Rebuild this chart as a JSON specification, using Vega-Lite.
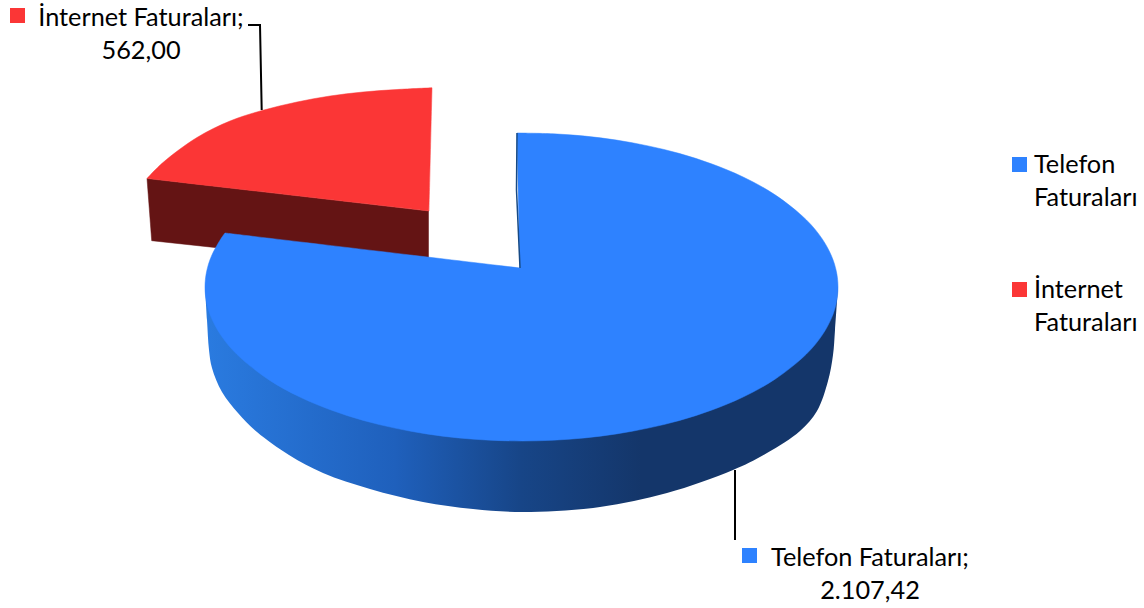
{"$schema":"https://vega.github.io/schema/vega-lite/v6.json","width":1144,"height":608,"padding":0,"autosize":{"type":"none"},"background":"white","config":{"view":{"stroke":null}},
"datasets":{
"redSide":[{"i":0,"x":147,"y":178.5},{"i":1,"x":151.7,"y":240.7},{"i":2,"x":428.5,"y":270.5},{"i":3,"x":428.5,"y":211},{"i":4,"x":147,"y":178.5}],
"redTop":[{"i":0,"x":147,"y":178.5},{"i":1,"x":147,"y":178.5},{"i":2,"x":163,"y":162.5},{"i":3,"x":197,"y":137.5},{"i":4,"x":230,"y":121},{"i":5,"x":262,"y":110.5},{"i":6,"x":297,"y":102},{"i":7,"x":330,"y":96},{"i":8,"x":363,"y":92},{"i":9,"x":397,"y":89.5},{"i":10,"x":432,"y":87.8},{"i":11,"x":432,"y":87.8},{"i":12,"x":429,"y":211},{"i":13,"x":429,"y":211},{"i":14,"x":147,"y":178.5},{"i":15,"x":147,"y":178.5}],
"blueSide":[{"i":0,"x":205,"y":287},{"i":1,"x":205,"y":287},{"i":2,"x":207,"y":320},{"i":3,"x":209,"y":350},{"i":4,"x":212,"y":368},{"i":5,"x":222,"y":392},{"i":6,"x":238,"y":413},{"i":7,"x":257,"y":432},{"i":8,"x":289,"y":455},{"i":9,"x":323,"y":473},{"i":10,"x":370,"y":489},{"i":11,"x":423,"y":502},{"i":12,"x":473,"y":509},{"i":13,"x":523,"y":512},{"i":14,"x":600,"y":507},{"i":15,"x":667,"y":493},{"i":16,"x":733,"y":470},{"i":17,"x":767,"y":453},{"i":18,"x":800,"y":431},{"i":19,"x":817,"y":411},{"i":20,"x":828,"y":381},{"i":21,"x":833,"y":355},{"i":22,"x":835,"y":330},{"i":23,"x":838,"y":287},{"i":24,"x":838,"y":287},{"i":25,"x":205,"y":287},{"i":26,"x":205,"y":287}],
"blueTop":[{"i":0,"x":517,"y":133},{"i":1,"x":517,"y":133},{"i":2,"x":553.2,"y":133.8},{"i":3,"x":584.8,"y":136.1},{"i":4,"x":616.5,"y":140.1},{"i":5,"x":648.1,"y":145.9},{"i":6,"x":679.8,"y":153.6},{"i":7,"x":711.4,"y":163.8},{"i":8,"x":743.1,"y":177},{"i":9,"x":774.7,"y":194.6},{"i":10,"x":806.4,"y":219.9},{"i":11,"x":822.2,"y":238.9},{"i":12,"x":831.7,"y":256.4},{"i":13,"x":836.4,"y":271.6},{"i":14,"x":838,"y":287},{"i":15,"x":836.4,"y":302.4},{"i":16,"x":831.7,"y":317.6},{"i":17,"x":822.2,"y":335.1},{"i":18,"x":806.4,"y":354.1},{"i":19,"x":774.7,"y":379.4},{"i":20,"x":743.1,"y":397},{"i":21,"x":711.4,"y":410.2},{"i":22,"x":679.8,"y":420.4},{"i":23,"x":648.1,"y":428.1},{"i":24,"x":616.5,"y":433.9},{"i":25,"x":584.8,"y":437.9},{"i":26,"x":553.2,"y":440.2},{"i":27,"x":521.5,"y":441},{"i":28,"x":489.8,"y":440.2},{"i":29,"x":458.2,"y":437.9},{"i":30,"x":426.5,"y":433.9},{"i":31,"x":394.9,"y":428.1},{"i":32,"x":363.2,"y":420.4},{"i":33,"x":331.6,"y":410.2},{"i":34,"x":299.9,"y":397},{"i":35,"x":268.3,"y":379.4},{"i":36,"x":236.6,"y":354.1},{"i":37,"x":220.8,"y":335.1},{"i":38,"x":211.3,"y":317.6},{"i":39,"x":206.6,"y":302.4},{"i":40,"x":205,"y":287},{"i":41,"x":206.6,"y":271.6},{"i":42,"x":211.3,"y":256.4},{"i":43,"x":220.8,"y":238.9},{"i":44,"x":225,"y":233},{"i":45,"x":225,"y":233},{"i":46,"x":520,"y":268},{"i":47,"x":520,"y":268},{"i":48,"x":517,"y":133},{"i":49,"x":517,"y":133}],
"wall":[{"i":0,"x":517,"y":133},{"i":1,"x":516.5,"y":190},{"i":2,"x":520,"y":268}],
"leaders":[{"k":"a","i":0,"x":261.7,"y":110},{"k":"a","i":1,"x":260,"y":25},{"k":"a","i":2,"x":248,"y":25},{"k":"b","i":0,"x":735,"y":470},{"k":"b","i":1,"x":735,"y":540}],
"swatches":[{"name":"İnternet Faturaları","x":17.5,"y":15.5},{"name":"Telefon Faturaları","x":749.5,"y":555.5},{"name":"Telefon Faturaları","x":1019.5,"y":164.5},{"name":"İnternet Faturaları","x":1019.5,"y":289.5}],
"dataLabels":[{"text":"İnternet Faturaları;","x":141,"y":25.5},{"text":"562,00","x":141,"y":59},{"text":"Telefon Faturaları;","x":870,"y":565.5},{"text":"2.107,42","x":870,"y":598.5}],
"legendLabels":[{"text":"Telefon","x":1034,"y":172.5},{"text":"Faturaları","x":1034,"y":205.5},{"text":"İnternet","x":1034,"y":297.5},{"text":"Faturaları","x":1034,"y":330.5}]
},
"encoding":{
"x":{"field":"x","type":"quantitative","scale":{"domain":[0,1144]},"axis":null},
"y":{"field":"y","type":"quantitative","scale":{"domain":[0,608],"reverse":true},"axis":null}
},
"layer":[
{"data":{"name":"redSide"},"mark":{"type":"line","fill":"#641414","stroke":"#641414","strokeWidth":0.5},"encoding":{"order":{"field":"i","type":"quantitative"}}},
{"data":{"name":"redTop"},"mark":{"type":"line","interpolate":"catmull-rom","fill":"#FB3636","stroke":"#FB3636","strokeWidth":0.5},"encoding":{"order":{"field":"i","type":"quantitative"}}},
{"data":{"name":"blueSide"},"mark":{"type":"line","interpolate":"catmull-rom","strokeWidth":0,"fill":{"gradient":"linear","x1":0,"y1":0,"x2":1,"y2":0,"stops":[{"offset":0,"color":"#2A7BE0"},{"offset":0.3,"color":"#1F60BC"},{"offset":0.5,"color":"#174587"},{"offset":0.69,"color":"#14366A"},{"offset":1,"color":"#14366A"}]}},"encoding":{"order":{"field":"i","type":"quantitative"}}},
{"data":{"name":"blueTop"},"mark":{"type":"line","interpolate":"catmull-rom","fill":"#2E82FF","stroke":"#2E82FF","strokeWidth":0.5},"encoding":{"order":{"field":"i","type":"quantitative"}}},
{"data":{"name":"wall"},"mark":{"type":"line","color":"#174A85","strokeWidth":1.5},"encoding":{"order":{"field":"i","type":"quantitative"}}},
{"data":{"name":"leaders"},"mark":{"type":"line","color":"#000000","strokeWidth":2},"encoding":{"detail":{"field":"k"},"order":{"field":"i","type":"quantitative"}}},
{"data":{"name":"swatches"},"mark":{"type":"point","shape":"square","filled":true,"size":225,"opacity":1},"encoding":{"color":{"field":"name","type":"nominal","legend":null,"scale":{"domain":["Telefon Faturaları","İnternet Faturaları"],"range":["#2E82FF","#FB3636"]}}}},
{"data":{"name":"dataLabels"},"mark":{"type":"text","font":"Lato","fontSize":25.3,"align":"center","baseline":"alphabetic","color":"#000000"},"encoding":{"text":{"field":"text"}}},
{"data":{"name":"legendLabels"},"mark":{"type":"text","font":"Lato","fontSize":25.3,"align":"left","baseline":"alphabetic","color":"#000000"},"encoding":{"text":{"field":"text"}}}
]}
